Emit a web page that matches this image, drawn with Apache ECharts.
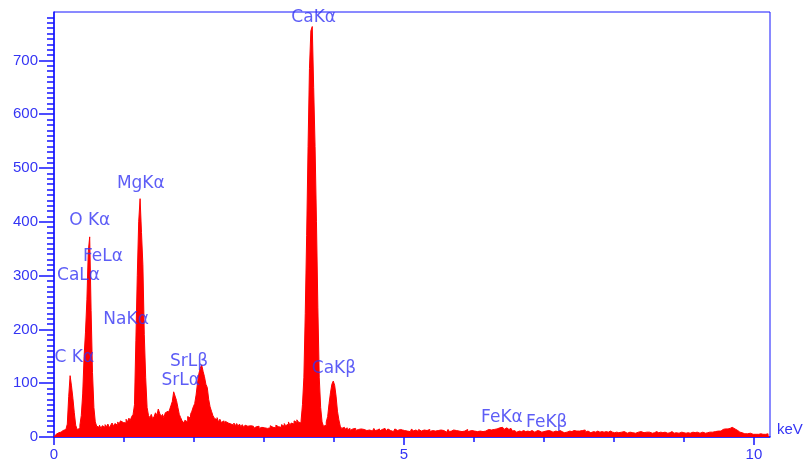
<!DOCTYPE html>
<html>
<head>
<meta charset="utf-8">
<script src="https://cdn.jsdelivr.net/npm/echarts@6/dist/echarts.min.js"></script>
<style>
  html, body { margin: 0; padding: 0; background: #fff; }
  #spectrum { width: 803px; height: 459px; }
</style>
</head>
<body>
<div id="spectrum"></div>
<script>
// channel width of the spectrum, keV
var energyStep = 0.02;

// counts per channel, 0.00 .. 10.22 keV (25 channels = 0.5 keV per row)
var counts = [
  0, 0, 5, 8, 10, 9, 12, 11, 14, 16, 24, 75, 114, 95, 72, 45, 22, 14, 16, 22, 40, 80, 150, 195, 255,
  345, 372, 235, 120, 55, 28, 20, 18, 22, 16, 21, 18, 23, 19, 24, 17, 22, 26, 20, 25, 22, 28, 24, 30, 27,
  30, 26, 33, 28, 35, 31, 38, 42, 60, 180, 300, 400, 443, 380, 320, 190, 110, 55, 40, 36, 42, 34, 38, 45, 40,
  52, 44, 38, 42, 36, 45, 48, 44, 50, 58, 66, 84, 76, 68, 55, 42, 36, 30, 26, 31, 28, 38, 35, 42, 48,
  56, 62, 78, 100, 118, 128, 134, 122, 112, 98, 92, 70, 56, 48, 40, 35, 32, 36, 28, 33, 27, 30, 25, 29, 26,
  28, 24, 27, 22, 26, 21, 25, 20, 24, 19, 23, 18, 22, 20, 17, 21, 18, 20, 16, 19, 17, 20, 16, 18, 19,
  17, 20, 16, 19, 17, 21, 18, 20, 17, 22, 19, 21, 18, 23, 20, 25, 21, 24, 28, 22, 26, 24, 30, 27, 32,
  28, 26, 30, 60, 110, 230, 375, 540, 685, 755, 763, 650, 540, 400, 240, 110, 55, 28, 20, 22, 28, 38, 62, 82, 98,
  104, 96, 76, 48, 32, 20, 16, 18, 14, 17, 13, 16, 12, 15, 13, 16, 12, 14, 11, 15, 12, 14, 16, 12, 15,
  13, 15, 11, 14, 16, 12, 13, 15, 11, 14, 12, 16, 13, 11, 15, 12, 14, 10, 13, 15, 12, 11, 14, 12, 13,
  12, 14, 11, 13, 10, 12, 15, 11, 13, 12, 10, 14, 11, 12, 13, 10, 12, 11, 14, 10, 12, 13, 11, 10, 12,
  11, 13, 10, 12, 11, 9, 12, 14, 10, 11, 13, 10, 12, 9, 11, 12, 10, 13, 11, 12, 14, 10, 11, 12, 13,
  11, 12, 10, 13, 11, 12, 10, 13, 11, 12, 14, 11, 13, 12, 14, 13, 15, 14, 17, 15, 18, 16, 14, 17, 15,
  14, 16, 13, 11, 12, 9, 10, 11, 9, 10, 12, 9, 10, 11, 9, 10, 12, 11, 9, 10, 12, 10, 11, 9, 10,
  10, 11, 9, 12, 10, 11, 9, 10, 11, 9, 10, 12, 9, 10, 8, 11, 9, 10, 11, 9, 10, 12, 9, 11, 10,
  11, 9, 12, 10, 13, 9, 11, 10, 8, 9, 10, 8, 9, 11, 8, 9, 10, 8, 9, 10, 8, 9, 11, 8, 9,
  8, 10, 9, 8, 7, 9, 8, 10, 9, 7, 8, 9, 10, 8, 9, 7, 8, 9, 8, 10, 9, 8, 7, 9, 8,
  9, 8, 7, 9, 8, 10, 7, 8, 9, 7, 8, 9, 8, 7, 9, 8, 10, 8, 7, 8, 9, 7, 8, 9, 8,
  8, 7, 9, 8, 7, 8, 9, 7, 8, 9, 8, 7, 8, 9, 8, 7, 9, 8, 9, 8, 9, 8, 10, 9, 11,
  12, 11, 13, 14, 15, 16, 15, 17, 16, 18, 17, 15, 14, 12, 10, 9, 8, 7, 6, 5, 6, 5, 7, 6, 5,
  6, 5, 6, 5, 7, 6, 5, 6, 5, 7, 6, 5
];

// peak labels and where their text sits (keV, counts)
var peakNames = ['CaKα', 'MgKα', 'O Kα', 'FeLα', 'CaLα', 'NaKα', 'C Kα', 'SrLβ', 'SrLα', 'CaKβ', 'FeKα', 'FeKβ'];
var peakLabelEnergy = [3.71, 1.24, 0.51, 0.70, 0.35, 1.03, 0.29, 1.93, 1.81, 4.00, 6.40, 7.04];
var peakLabelCounts = [780, 471, 402, 335, 300, 218, 147, 140, 104, 128, 37, 26];

// ticks
var yMajorTicks = [0, 100, 200, 300, 400, 500, 600, 700];
var yMinorTicks = [];
for (var v = 10; v < 790; v += 10) {
  if (v % 100 !== 0) yMinorTicks.push(v);
}
var xMajorTicks = [0, 5, 10];
var xMinorTicks = [1, 2, 3, 4, 6, 7, 8, 9];

var blue = '#1414ff';
var labelBlue = '#3434f4';

var spectrumData = counts.map(function (c, i) {
  return [+(i * energyStep).toFixed(2), c];
});
var labelData = peakNames.map(function (n, i) {
  return { name: n, value: [peakLabelEnergy[i], peakLabelCounts[i]] };
});

var chart = echarts.init(document.getElementById('spectrum'));

var option = {
  animation: false,
  grid: {
    left: 54, right: 33, top: 12, bottom: 22,
    outerBoundsMode: 'none',
    show: true,
    borderColor: blue,
    borderWidth: 1,
    backgroundColor: 'rgba(0,0,0,0)'
  },
  xAxis: [
    {
      type: 'value', min: 0, max: 10.23,
      axisLine: { lineStyle: { color: blue, width: 1.5 } },
      axisTick: { customValues: xMinorTicks, length: 5, lineStyle: { color: blue, width: 1.5 } },
      axisLabel: { show: false },
      splitLine: { show: false },
      name: 'keV',
      nameLocation: 'end',
      nameGap: 7,
      nameTextStyle: { color: labelBlue, fontSize: 15, fontFamily: 'Liberation Sans', verticalAlign: 'bottom' }
    },
    {
      type: 'value', min: 0, max: 10.23, position: 'bottom',
      axisLine: { show: false },
      axisTick: { customValues: xMajorTicks, length: 8, lineStyle: { color: blue, width: 1.5 } },
      axisLabel: { customValues: xMajorTicks, margin: 10, color: labelBlue, fontSize: 15, fontFamily: 'Liberation Sans' },
      splitLine: { show: false }
    }
  ],
  yAxis: [
    {
      type: 'value', min: 0, max: 790, position: 'left',
      axisLine: { show: true, lineStyle: { color: blue, width: 1.5 } },
      axisTick: { customValues: yMajorTicks, length: 15, lineStyle: { color: blue, width: 1.5 } },
      axisLabel: { customValues: yMajorTicks, margin: 16, color: labelBlue, fontSize: 15, fontFamily: 'Liberation Sans' },
      splitLine: { show: false }
    },
    {
      type: 'value', min: 0, max: 790, position: 'left',
      axisLine: { show: false },
      axisTick: { customValues: yMinorTicks, length: 7, lineStyle: { color: blue, width: 1.5 } },
      axisLabel: { show: false },
      splitLine: { show: false }
    }
  ],
  series: [
    {
      type: 'line',
      data: spectrumData,
      step: 'middle',
      symbol: 'none',
      lineStyle: { color: '#ff0000', width: 1 },
      areaStyle: { color: '#ff0000', opacity: 1 },
      z: 2
    },
    {
      type: 'scatter',
      data: labelData,
      symbolSize: 0,
      silent: true,
      label: {
        show: true,
        position: 'inside',
        formatter: '{b}',
        color: labelBlue,
        fontSize: 17,
        fontFamily: 'DejaVu Sans'
      },
      z: 5
    }
  ]
};

option && chart.setOption(option);
</script>
</body>
</html>
